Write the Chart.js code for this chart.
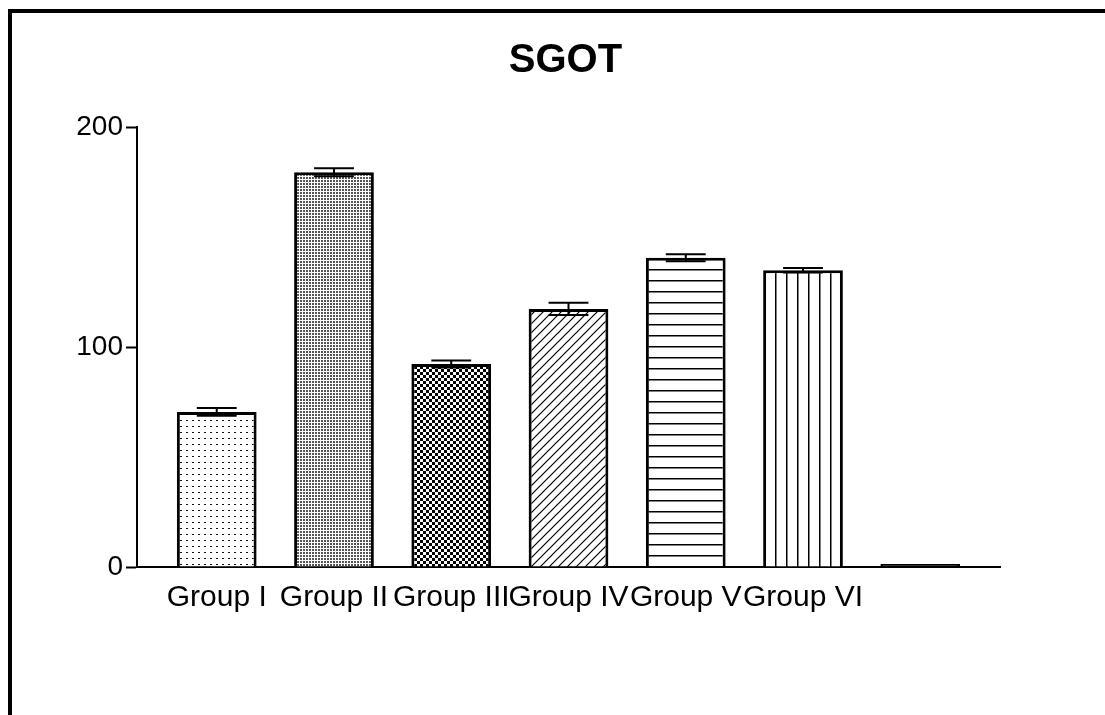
<!DOCTYPE html>
<html>
<head>
<meta charset="utf-8">
<title>SGOT</title>
<script src="https://cdn.jsdelivr.net/npm/chart.js@4/dist/chart.umd.min.js"></script>
<style>
  html, body { margin: 0; padding: 0; background: #fff; }
  #wrap { width: 1105px; height: 715px; position: relative; }
</style>
</head>
<body>
<div id="wrap"><canvas id="chart" width="1105" height="715"></canvas></div>
<script>
// Group labels (the seventh slot is an empty, unlabeled group)
const groups = ['Group I', 'Group II', 'Group III', 'Group IV', 'Group V', 'Group VI', ''];
// Mean SGOT per group
const sgotMean = [70.5, 179.4, 92.3, 117.3, 140.6, 134.9, 0];
// Standard error per group
const sgotSem = [1.8, 1.8, 1.6, 2.8, 1.6, 1.0, 0];
// Y axis tick values
const yTicks = [0, 100, 200];
const chartTitle = 'SGOT';

const FONT = '"Liberation Sans", Arial, Helvetica, sans-serif';

// Monochrome fill patterns, one per group
function makePattern(kind) {
  const c = document.createElement('canvas');
  const g = c.getContext('2d');
  const tile = { sparseDots: 6, denseDots: 3, checker: 6, diagonal: 9, horizontal: 11, vertical: 11 }[kind];
  c.width = tile; c.height = tile;
  g.fillStyle = '#fff';
  g.fillRect(0, 0, tile, tile);
  g.fillStyle = '#000';
  g.strokeStyle = '#000';
  switch (kind) {
    case 'sparseDots':
      g.fillStyle = '#111';
      g.fillRect(0, 0, 2, 1);
      break;
    case 'denseDots':
      g.fillStyle = '#555';
      g.fillRect(0, 0, 2, 2);
      break;
    case 'checker':
      g.fillRect(0, 0, 3, 3);
      g.fillRect(3, 3, 3, 3);
      break;
    case 'diagonal':
      g.lineWidth = 1.2;
      g.beginPath();
      g.moveTo(-1, tile + 1); g.lineTo(tile + 1, -1);
      g.moveTo(-1, 1); g.lineTo(1, -1);
      g.moveTo(tile - 1, tile + 1); g.lineTo(tile + 1, tile - 1);
      g.stroke();
      break;
    case 'horizontal':
      g.fillRect(0, 5, tile, 1.5);
      break;
    case 'vertical':
      g.fillRect(5, 0, 1.5, tile);
      break;
  }
  return document.getElementById('chart').getContext('2d').createPattern(c, 'repeat');
}

const fills = [
  makePattern('sparseDots'),
  makePattern('denseDots'),
  makePattern('checker'),
  makePattern('diagonal'),
  makePattern('horizontal'),
  makePattern('vertical'),
  '#000'
];

// Outer frame (left and top edges)
const framePlugin = {
  id: 'frame',
  beforeDraw(chart) {
    const g = chart.ctx;
    g.save();
    g.fillStyle = '#fff';
    g.fillRect(0, 0, chart.width, chart.height);
    g.fillStyle = '#000';
    g.fillRect(8, 9, 4, chart.height - 9);
    g.fillRect(8, 9, chart.width - 8, 4);
    g.restore();
  }
};

// Bold title centred over the plot area
const titlePlugin = {
  id: 'plotTitle',
  afterDraw(chart) {
    const g = chart.ctx;
    const a = chart.chartArea;
    g.save();
    g.fillStyle = '#000';
    g.font = 'bold 40px ' + FONT;
    g.textAlign = 'center';
    g.textBaseline = 'alphabetic';
    g.fillText(chartTitle, (a.left + a.right) / 2 - 3, 72);
    g.restore();
  }
};

// Mean ± SEM error bars with caps
const errorBarPlugin = {
  id: 'errorBars',
  afterDatasetsDraw(chart) {
    const meta = chart.getDatasetMeta(0);
    const y = chart.scales.y;
    const g = chart.ctx;
    g.save();
    g.strokeStyle = '#000';
    g.lineWidth = 2;
    meta.data.forEach((bar, i) => {
      const e = sgotSem[i];
      if (!e) return;
      const hi = y.getPixelForValue(sgotMean[i] + e);
      const lo = y.getPixelForValue(sgotMean[i] - e);
      const half = bar.width / 4;
      g.beginPath();
      g.moveTo(bar.x, hi); g.lineTo(bar.x, lo);
      g.moveTo(bar.x - half, hi); g.lineTo(bar.x + half, hi);
      g.moveTo(bar.x - half, lo); g.lineTo(bar.x + half, lo);
      g.stroke();
    });
    g.restore();
  }
};

new Chart(document.getElementById('chart'), {
  type: 'bar',
  data: {
    datasets: [{
      data: sgotMean.map((v, i) => ({ x: i + 1, y: v })),
      backgroundColor: fills,
      borderColor: '#000',
      borderWidth: 3,
      minBarLength: 3,
      barPercentage: 0.68,
      categoryPercentage: 1
    }]
  },
  options: {
    responsive: false,
    animation: false,
    events: [],
    layout: { padding: { left: 0, right: 105, top: 127, bottom: 0 } },
    plugins: {
      legend: { display: false },
      tooltip: { enabled: false },
      title: { display: false }
    },
    scales: {
      x: {
        type: 'linear',
        min: 0.32,
        max: 7.68,
        offset: false,
        grid: { display: false, drawTicks: false },
        border: { display: true, color: '#000', width: 2 },
        ticks: {
          autoSkip: false,
          maxRotation: 0,
          minRotation: 0,
          color: '#000',
          padding: 13,
          font: { family: FONT, size: 30 },
          callback: v => groups[v - 1] ?? ''
        },
        afterBuildTicks: s => { s.ticks = groups.map((_, i) => ({ value: i + 1 })); },
        afterFit: s => { s.height = 148; }
      },
      y: {
        min: 0,
        max: 200,
        grid: { drawOnChartArea: false, tickLength: 11, tickColor: '#000', tickWidth: 2 },
        border: { display: true, color: '#000', width: 2 },
        ticks: {
          color: '#000',
          padding: 3,
          font: { family: FONT, size: 28 }
        },
        afterBuildTicks: s => { s.ticks = yTicks.map(v => ({ value: v })); },
        afterFit: s => { s.width = 137; }
      }
    }
  },
  plugins: [framePlugin, titlePlugin, errorBarPlugin]
});
</script>
</body>
</html>
